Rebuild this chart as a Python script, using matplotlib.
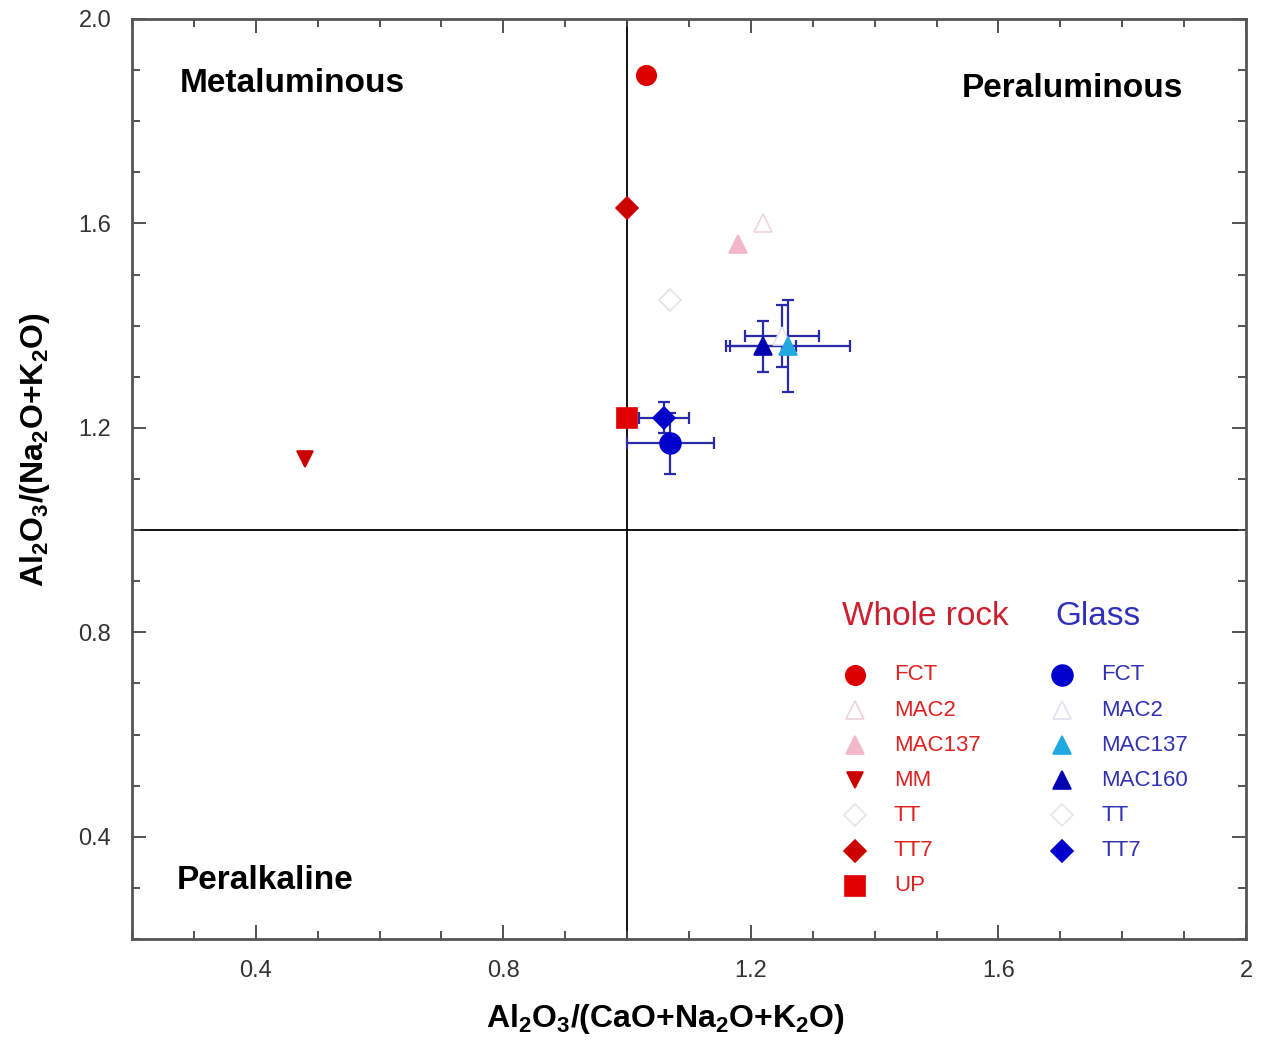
import numpy as np
import matplotlib
matplotlib.use('Agg')
import matplotlib.pyplot as plt
from matplotlib.ticker import MultipleLocator, FixedLocator

plt.rcParams['font.family'] = ['Liberation Sans', 'DejaVu Sans']
plt.rcParams['mathtext.fontset'] = 'custom'
plt.rcParams['mathtext.rm'] = 'Liberation Sans'
plt.rcParams['mathtext.bf'] = 'Liberation Sans:bold'
plt.rcParams['mathtext.default'] = 'bf'

# whole rock analyses
wr_names = ['FCT', 'MAC2', 'MAC137', 'MM', 'TT', 'TT7', 'UP']
wr_x = [1.03, 1.22, 1.18, 0.48, 1.07, 1.00, 1.00]
wr_y = [1.89, 1.60, 1.56, 1.14, 1.45, 1.63, 1.22]

# glass analyses (mean +- 1 sd); TT glass not shown in the plot area
glass_names = ['FCT', 'MAC2', 'MAC137', 'MAC160', 'TT', 'TT7']
glass_x = [1.07, 1.25, 1.26, 1.22, np.nan, 1.06]
glass_y = [1.17, 1.38, 1.36, 1.36, np.nan, 1.22]
glass_xerr = [0.07, 0.06, 0.10, 0.053, np.nan, 0.04]
glass_yerr = [0.06, 0.06, 0.09, 0.05, np.nan, 0.03]

# marker styles: (marker, facecolor, edgecolor, size)
wr_style = {
    'FCT': ('o', '#dd0000', '#dd0000', 14),
    'MAC2': ('^', 'white', '#f0d2dc', 13),
    'MAC137': ('^', '#f2b8c8', '#f2b8c8', 13),
    'MM': ('v', '#cc0000', '#cc0000', 12),
    'TT': ('D', 'white', '#e4e4e4', 11),
    'TT7': ('D', '#cc0000', '#cc0000', 11),
    'UP': ('s', '#e00000', '#e00000', 14),
}
glass_style = {
    'FCT': ('o', '#0000cc', '#0000cc', 15),
    'MAC2': ('^', 'white', '#e2e2ee', 13),
    'MAC137': ('^', '#22a8e0', '#22a8e0', 13),
    'MAC160': ('^', '#0000b0', '#0000b0', 13),
    'TT': ('D', 'white', '#e4e4ec', 11),
    'TT7': ('D', '#0000cc', '#0000cc', 11),
}

fig = plt.figure(figsize=(12.62, 10.53), dpi=100)
ax = fig.add_axes([0.1046, 0.1083, 0.8827, 0.8737])

ax.axvline(1.0, color='black', lw=1.3, zorder=1)
ax.axhline(1.0, color='black', lw=1.3, zorder=1)

ax.errorbar(glass_x, glass_y, xerr=glass_xerr, yerr=glass_yerr, fmt='none',
            ecolor='#2a2aa8', elinewidth=1.6, capsize=4, capthick=1.6, zorder=2)

for n, x, y in zip(wr_names, wr_x, wr_y):
    m, fc, ec, s = wr_style[n]
    ax.plot(x, y, marker=m, ms=s, mfc=fc, mec=ec, mew=1.2, ls='none', zorder=3)
for n, x, y in zip(glass_names, glass_x, glass_y):
    m, fc, ec, s = glass_style[n]
    ax.plot(x, y, marker=m, ms=s, mfc=fc, mec=ec, mew=1.2, ls='none', zorder=4)

ax.set_xlim(0.2, 2.0)
ax.set_ylim(0.2, 2.0)
ax.xaxis.set_major_locator(FixedLocator([0.4, 0.8, 1.2, 1.6, 2.0]))
ax.yaxis.set_major_locator(FixedLocator([0.4, 0.8, 1.2, 1.6, 2.0]))
ax.xaxis.set_minor_locator(MultipleLocator(0.1))
ax.yaxis.set_minor_locator(MultipleLocator(0.1))
ax.set_xticklabels(['0.4', '0.8', '1.2', '1.6', '2'])
ax.set_yticklabels(['0.4', '0.8', '1.2', '1.6', '2.0'])
ax.tick_params(which='both', direction='in', top=True, right=True, color='#444444')
ax.tick_params(which='major', length=10, width=1.3, labelsize=17, pad=15, labelcolor='#333333')
ax.tick_params(which='minor', length=6, width=1.3)
for sp in ax.spines.values():
    sp.set_color('#555555')
    sp.set_linewidth(2)

ax.set_xlabel('Al$_2$O$_3$/(CaO+Na$_2$O+K$_2$O)', fontsize=23, fontweight='bold')
ax.set_ylabel('Al$_2$O$_3$/(Na$_2$O+K$_2$O)', fontsize=23, fontweight='bold')
ax.xaxis.set_label_coords(0.479, -0.068)
ax.yaxis.set_label_coords(-0.072, 0.532)

ax.text(0.043, 0.930, 'Metaluminous', transform=ax.transAxes, fontsize=24,
        fontweight='bold', va='center', ha='left')
ax.text(0.745, 0.924, 'Peraluminous', transform=ax.transAxes, fontsize=24,
        fontweight='bold', va='center', ha='left')
ax.text(0.040, 0.064, 'Peralkaline', transform=ax.transAxes, fontsize=24,
        fontweight='bold', va='center', ha='left')

# hand-made legend in two columns
ax.text(0.637, 0.350, 'Whole rock', transform=ax.transAxes, fontsize=24,
        color='#cc2030', va='center', ha='left')
ax.text(0.829, 0.350, 'Glass', transform=ax.transAxes, fontsize=24,
        color='#3030b8', va='center', ha='left')
row0, step = 0.287, 0.0382
for i, n in enumerate(wr_names):
    m, fc, ec, s = wr_style[n]
    yy = row0 - i * step
    ax.plot(0.649, yy, marker=m, ms=s, mfc=fc, mec=ec, mew=1.2, ls='none',
            transform=ax.transAxes, clip_on=False, zorder=5)
    ax.text(0.684, yy, n, transform=ax.transAxes, fontsize=16, color='#dd2020',
            va='center', ha='left')
for i, n in enumerate(glass_names):
    m, fc, ec, s = glass_style[n]
    yy = row0 - i * step
    ax.plot(0.835, yy, marker=m, ms=s, mfc=fc, mec=ec, mew=1.2, ls='none',
            transform=ax.transAxes, clip_on=False, zorder=5)
    ax.text(0.870, yy, n, transform=ax.transAxes, fontsize=16, color='#3030b0',
            va='center', ha='left')

fig.savefig('out.png', dpi=100)
